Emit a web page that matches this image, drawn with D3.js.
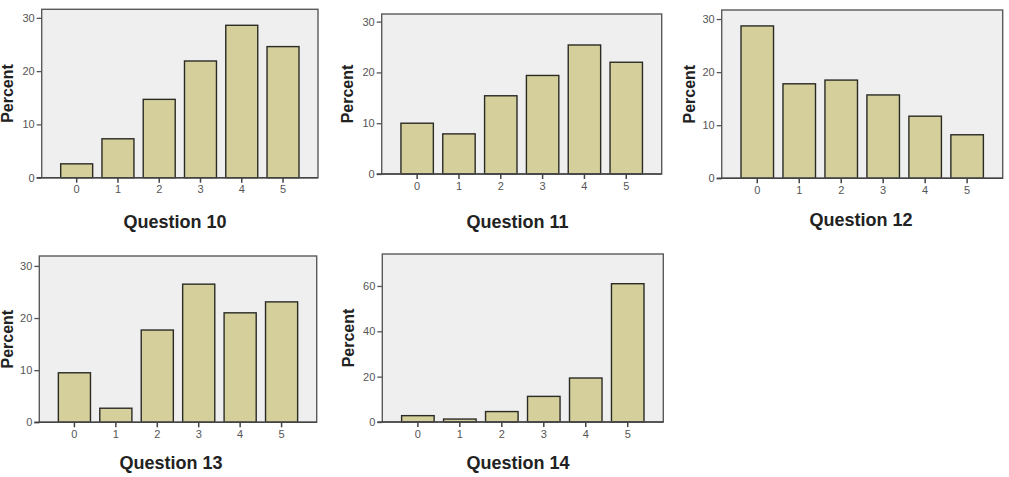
<!DOCTYPE html>
<html><head><meta charset="utf-8">
<script src="https://cdn.jsdelivr.net/npm/d3@7"></script>
<style>
html,body{margin:0;padding:0;background:#fff;}
svg{display:block;}
</style></head>
<body>
<svg id="chart" width="1009" height="477"></svg>
<script>
// ---- data ----
const categories = ["0","1","2","3","4","5"];
const titles = ["Question 10","Question 11","Question 12","Question 13","Question 14"];
const q10 = [2.6, 7.3, 14.7, 21.9, 28.6, 24.6];
const q11 = [10.0, 7.9, 15.4, 19.4, 25.4, 22.0];
const q12 = [28.7, 17.8, 18.5, 15.7, 11.7, 8.2];
const q13 = [9.5, 2.7, 17.7, 26.5, 21.0, 23.1];
const q14 = [2.8, 1.3, 4.6, 11.3, 19.4, 61.0];
const yTicks = [[0,10,20,30],[0,10,20,30],[0,10,20,30],[0,10,20,30],[0,20,40,60]];
const yMax = [31.6, 31.5, 31.7, 31.9, 74.1];
const yLabel = "Percent";

// ---- layout ----
const series = [q10,q11,q12,q13,q14];
const boxes = [
  {L:41.7, R:318,   T:9.3, B:177.7, ylx:13,  tx:175, ty:228},
  {L:381.7,R:661.7, T:14,  B:174,   ylx:353, tx:517.5, ty:228},
  {L:721.7,R:1002.7,T:10,  B:178.3, ylx:695, tx:861, ty:226},
  {L:39.3, R:316.7, T:256, B:422.3, ylx:12.5, tx:171, ty:469},
  {L:382.3,R:663.3, T:254, B:422,   ylx:354, tx:518, ty:469}
];
const svg = d3.select("#chart");
const FONT = "Arial, 'Liberation Sans', sans-serif";

series.forEach((vals, i) => {
  const b = boxes[i];
  const g = svg.append("g");
  const x = d3.scaleBand().domain(categories).range([b.L, b.R])
    .paddingInner(0.225).paddingOuter(0.46);
  const y = d3.scaleLinear().domain([0, yMax[i]]).range([b.B, b.T]);

  // plot background
  g.append("rect").attr("x", b.L).attr("y", b.T)
    .attr("width", b.R - b.L).attr("height", b.B - b.T)
    .attr("fill", "#efefef").attr("stroke", "none");

  // bars
  g.selectAll("rect.bar").data(vals).join("rect").attr("class","bar")
    .attr("x", (d,j) => x(categories[j]))
    .attr("y", d => y(d))
    .attr("width", x.bandwidth())
    .attr("height", d => y(0) - y(d))
    .attr("fill", "#d4cf9b")
    .attr("stroke", "#2b2b26").attr("stroke-width", 1.4);

  // frame
  g.append("rect").attr("x", b.L).attr("y", b.T)
    .attr("width", b.R - b.L).attr("height", b.B - b.T)
    .attr("fill", "none").attr("stroke", "#5a5a5a").attr("stroke-width", 1.4);

  // y axis
  const ya = g.append("g").attr("transform", `translate(${b.L},0)`)
    .call(d3.axisLeft(y).tickValues(yTicks[i]).tickSize(5).tickPadding(2).tickFormat(d3.format("d")));
  ya.select(".domain").remove();
  ya.selectAll("line").attr("stroke", "#555").attr("stroke-width", 1.3);
  ya.selectAll("text").attr("font-family", FONT).attr("font-size", 11).attr("fill", "#555");

  // x axis
  const xa = g.append("g").attr("transform", `translate(0,${b.B})`)
    .call(d3.axisBottom(x).tickSize(5).tickPadding(3));
  xa.select(".domain").remove();
  xa.selectAll("line").attr("stroke", "#444").attr("stroke-width", 1.5);
  xa.selectAll("text").attr("font-family", FONT).attr("font-size", 11).attr("fill", "#555");

  // baseline re-draw
  g.append("line").attr("x1", b.L - 5).attr("x2", b.R).attr("y1", b.B).attr("y2", b.B)
    .attr("stroke", "#444").attr("stroke-width", 1.5);

  // y label
  g.append("text")
    .attr("transform", `translate(${b.ylx},${(b.T + b.B)/2}) rotate(-90)`)
    .attr("text-anchor", "middle")
    .attr("font-family", FONT).attr("font-weight", "bold").attr("font-size", 16)
    .attr("fill", "#222").text(yLabel);

  // title
  g.append("text").attr("x", b.tx).attr("y", b.ty)
    .attr("text-anchor", "middle")
    .attr("font-family", FONT).attr("font-weight", "bold").attr("font-size", 18)
    .attr("fill", "#222").text(titles[i]);
});
</script>
</body></html>
